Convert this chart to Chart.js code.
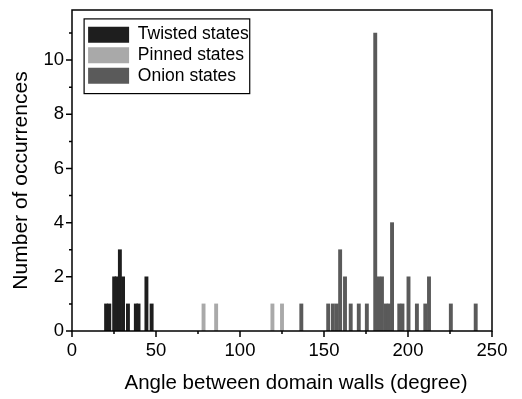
<!DOCTYPE html>
<html>
<head>
<meta charset="utf-8">
<script src="https://cdn.jsdelivr.net/npm/chart.js@4"></script>
<style>
  body { margin: 0; background: #fff; }
  #wrap { width: 522px; height: 399px; }
</style>
</head>
<body>
<div id="wrap"><canvas id="hist"></canvas></div>
<script>
const twistedAngles = [20.3, 22.2, 25.1, 26.6, 28.5, 30.4, 33.3, 38.0, 39.6, 44.3, 47.4];
const twistedCounts = [1, 1, 2, 2, 3, 2, 1, 1, 1, 2, 1];

const pinnedAngles = [78.3, 85.8, 119.3, 125.0];
const pinnedCounts = [1, 1, 1, 1];

const onionAngles = [136.5, 152.5, 155.3, 157.6, 159.6, 162.5, 165.9, 170.7, 175.5, 180.5,
  182.4, 184.5, 186.6, 188.6, 190.5, 194.8, 196.7, 200.3, 205.3, 210.3, 212.5, 225.5, 240.3];
const onionCounts = [1, 1, 1, 1, 3, 2, 1, 1, 1, 11, 2, 2, 1, 1, 4, 1, 1, 2, 1, 1, 2, 1, 1];

const xTicks = [0, 50, 100, 150, 200, 250];
const yTicks = [0, 2, 4, 6, 8, 10];

const xTitle = 'Angle between domain walls (degree)';
const yTitle = 'Number of occurrences';

const points = (xs, ys) => xs.map((v, i) => ({ x: v, y: ys[i] }));

const FONT = '"Liberation Sans", Arial, sans-serif';
Chart.defaults.font.family = FONT;
Chart.defaults.color = '#000';

// marco del grafico, marcas de los ejes y titulos
const frame = {
  id: 'frame',
  afterLayout(chart) {
    // colocar la leyenda dentro del area, arriba a la izquierda
    const lg = chart.legend;
    const a = chart.chartArea;
    const w = lg.right - lg.left, h = lg.bottom - lg.top;
    lg.left = a.left + 13; lg.right = lg.left + w;
    lg.top = a.top + 12.8; lg.bottom = lg.top + h;
  },
  afterDraw(chart) {
    const { ctx, chartArea: a, scales: { x, y } } = chart;
    ctx.save();
    ctx.strokeStyle = '#000';
    ctx.lineWidth = 1.5;
    ctx.strokeRect(a.left, a.top, a.right - a.left, a.bottom - a.top);
    ctx.beginPath();
    x.ticks.forEach(t => {
      const px = x.getPixelForValue(t.value);
      const len = xTicks.includes(t.value) ? 6 : 3;
      ctx.moveTo(px, a.bottom);
      ctx.lineTo(px, a.bottom + len);
    });
    y.ticks.forEach(t => {
      if (!Number.isInteger(t.value)) return;
      const py = y.getPixelForValue(t.value);
      const len = yTicks.includes(t.value) ? 6 : 3;
      ctx.moveTo(a.left, py);
      ctx.lineTo(a.left - len, py);
    });
    ctx.stroke();

    // caja de la leyenda
    const boxes = chart.legend.legendHitBoxes;
    if (boxes && boxes.length) {
      const l = Math.min(...boxes.map(b => b.left)) - 4;
      const t = Math.min(...boxes.map(b => b.top)) - 7;
      const r = Math.max(...boxes.map(b => b.left + b.width)) + 1;
      const btm = Math.max(...boxes.map(b => b.top + b.height)) + 9;
      ctx.lineWidth = 1.2;
      ctx.strokeRect(l, t, r - l, btm - t);
    }

    // titulos de los ejes (un poco descentrados como en el original)
    ctx.fillStyle = '#000';
    ctx.textAlign = 'center';
    ctx.textBaseline = 'middle';
    ctx.font = '20.5px ' + FONT;
    ctx.fillText(xTitle, (a.left + a.right) / 2 + 14, a.bottom + 52);
    ctx.translate(21, (a.top + a.bottom) / 2 + 10);
    ctx.rotate(-Math.PI / 2);
    ctx.font = '21px ' + FONT;
    ctx.fillText(yTitle, 0, 0);
    ctx.restore();
  }
};

const commonBar = { barThickness: 3.25, grouped: false, borderWidth: 0 };

new Chart(document.getElementById('hist'), {
  type: 'bar',
  data: {
    datasets: [
      { label: 'Twisted states', data: points(twistedAngles, twistedCounts), backgroundColor: '#1e1e1e', ...commonBar },
      { label: 'Pinned states', data: points(pinnedAngles, pinnedCounts), backgroundColor: '#a9a9a9', ...commonBar },
      { label: 'Onion states', data: points(onionAngles, onionCounts), backgroundColor: '#5a5a5a', ...commonBar }
    ]
  },
  options: {
    responsive: true,
    maintainAspectRatio: false,
    animation: false,
    layout: { padding: { left: 0, right: 30, top: 10, bottom: 0 } },
    plugins: {
      tooltip: { enabled: false },
      legend: {
        position: 'chartArea',
        align: 'start',
        labels: {
          boxWidth: 41,
          boxHeight: 16,
          padding: 3.1,
          font: { size: 17.5 },
          color: '#000'
        }
      }
    },
    scales: {
      x: {
        type: 'linear',
        min: 0,
        max: 250,
        offset: false,
        grid: { display: false, drawTicks: false, offset: false },
        border: { display: false },
        ticks: {
          stepSize: 25,
          autoSkip: false,
          maxRotation: 0,
          padding: 9,
          font: { size: 18.5 },
          callback: v => (xTicks.includes(v) ? String(v) : '')
        },
        afterFit: s => { s.height = 68; s.paddingLeft = 0; s.paddingRight = 0; }
      },
      y: {
        min: 0,
        max: 11.85,
        grid: { display: false, drawTicks: false },
        border: { display: false },
        ticks: {
          stepSize: 1,
          autoSkip: false,
          padding: 8,
          font: { size: 18.5 },
          callback: v => (yTicks.includes(v) ? String(v) : '')
        },
        afterFit: s => { s.width = 72; s.paddingTop = 0; s.paddingBottom = 0; }
      }
    }
  },
  plugins: [frame]
});
</script>
</body>
</html>
